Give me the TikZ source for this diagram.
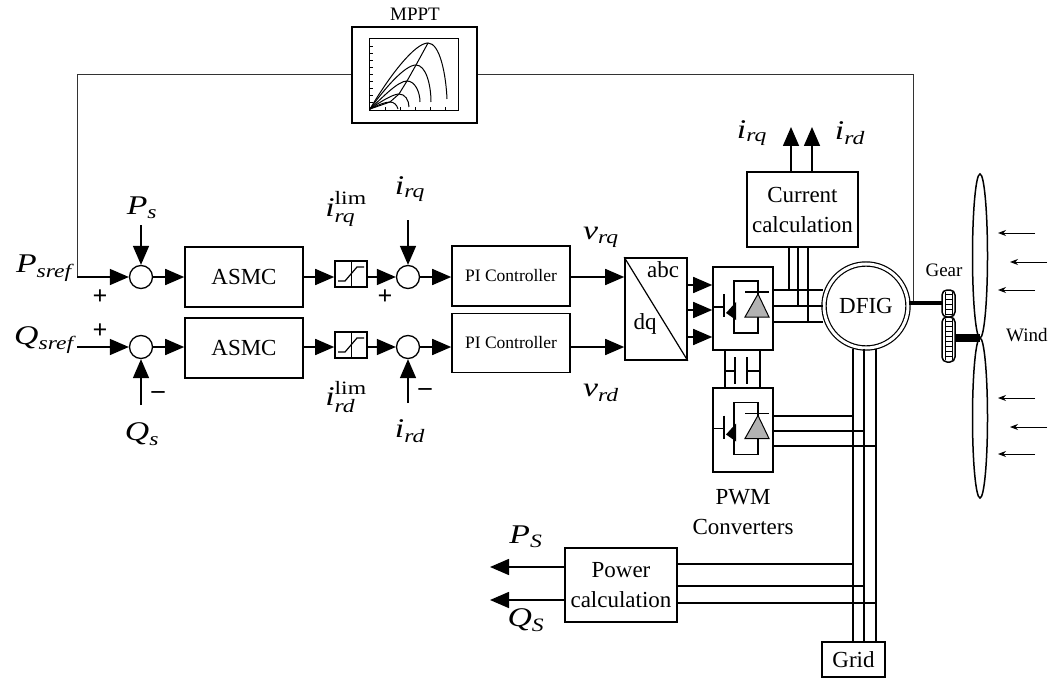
\documentclass[tikz,border=0pt]{standalone}
\usepackage{amsmath}
\usepackage{fontspec}
\setmainfont{Liberation Serif}
\usetikzlibrary{arrows.meta}
\begin{document}
\begin{tikzpicture}[x=1pt,y=-1pt,
  blk/.style={draw,line width=1.6pt,inner sep=0pt,align=center},
  sumc/.style={circle,draw,line width=1.3pt,minimum size=23pt,inner sep=0pt},
  arr/.style={-{Triangle[length=19pt,width=16pt]},line width=1.6pt},
  warr/.style={-{Stealth[length=8pt,width=6pt]},line width=0.9pt},
  wire/.style={line width=1.6pt},
  fb/.style={line width=1pt,draw=black!80},
  lbl/.style={inner sep=0pt,xscale=1.25,font=\fontsize{27}{30}\selectfont},
  txt/.style={font=\fontsize{23}{30}\selectfont},
  sml/.style={font=\fontsize{19}{20}\selectfont},
  sgn/.style={inner sep=0pt,font=\bfseries\fontsize{26}{26}\selectfont}
]
\useasboundingbox (0,0) rectangle (1050,682);
% ---------- MPPT ----------
\node[blk,minimum width=125pt,minimum height=96pt] (mppt) at (414.5,75) {};
\node[draw,line width=1pt,minimum width=89pt,minimum height=72pt,inner sep=0pt] (mpptin) at (413.5,75) {};
\node[font=\fontsize{19}{20}\selectfont] (mpptl) at (415,14) {MPPT};
\draw[line width=1pt] (370,109) .. controls (390,75) and (415,43) .. (428,43) .. controls (440,43) and (446,75) .. (447,99);
\draw[line width=1pt] (370,109) .. controls (385,88) and (405,65) .. (416,65) .. controls (426,65) and (431,85) .. (431,102);
\draw[line width=1pt] (370,109) .. controls (383,97) and (398,81) .. (407,81) .. controls (415,81) and (420,92) .. (420,102);
\draw[line width=1pt] (370,109) .. controls (380,102) and (393,94) .. (399,94) .. controls (405,94) and (409,100) .. (409,107);
\draw[line width=1pt] (370,109) .. controls (378,105) and (385,102) .. (390,102) .. controls (394,102) and (397,105) .. (398,109);
\draw[line width=1pt] (370,109) -- (390,102) -- (399,94) -- (407,81) -- (416,65) -- (428,43);
\foreach \ty in {46,53,...,102} \draw[line width=0.7pt] (369,\ty) -- (373,\ty);
\foreach \tx in {385,400,415,430,445} \draw[line width=0.7pt] (\tx,111) -- (\tx,107);
% ---------- left summing ----------
\node[sumc] (s1) at (141,277) {};
\node[sumc] (s2) at (141,347) {};
\coordinate (fbL) at (77,277);
\coordinate (q0) at (77,347);
\coordinate (psT) at (141,225);
\coordinate (qsB) at (141,405);
\draw[fb] (mppt.west) -| (fbL);
\draw[arr] (fbL) -- (s1);
\draw[arr] (q0) -- (s2);
\draw[arr] (psT) -- (s1);
\draw[arr] (qsB) -- (s2);
\node[lbl] (psref) at (44,268) {$\textit{P}_{\textit{sref}}$};
\node[lbl] (qsref) at (44,340) {$\textit{Q}_{\textit{sref}}$};
\node[lbl] (psl) at (142,208) {$\textit{P}_{\textit{s}}$};
\node[lbl] (qsl) at (142,434) {$\textit{Q}_{\textit{s}}$};
\node[sgn] (pl1) at (100,297) {+};
\node[sgn] (pl2) at (100,331) {+};
\node[sgn] (mi1) at (158,395) {\textendash};
% ---------- ASMC, limiter, sum ----------
\node[blk,txt,minimum width=118pt,minimum height=60pt] (asmc1) at (244,277) {ASMC};
\node[blk,txt,minimum width=118pt,minimum height=60pt] (asmc2) at (244,348) {ASMC};
\node[blk,minimum width=32pt,minimum height=26pt] (sat1) at (351,274) {};
\node[blk,minimum width=32pt,minimum height=26pt] (sat2) at (351,345) {};
\foreach \sn in {sat1,sat2}{
  \begin{scope}[shift={(\sn.center)}]
    \draw[line width=1pt] (0,-12) -- (0,12);
    \draw[line width=1.2pt] (-13,7) -- (-6,7) -- (6,-7) -- (13,-7);
  \end{scope}}
\node[sumc] (s3) at (408,277) {};
\node[sumc] (s4) at (408,347) {};
\draw[arr] (s1) -- (s1 -| asmc1.west);
\draw[arr] (s2) -- (s2 -| asmc2.west);
\draw[arr] (asmc1.east |- s3) -- (sat1.west |- s3);
\draw[arr] (asmc2.east |- s4) -- (sat2.west |- s4);
\draw[arr] (sat1.east |- s3) -- (s3);
\draw[arr] (sat2.east |- s4) -- (s4);
\coordinate (irqT) at (408,220);
\coordinate (irdB) at (408,403);
\draw[arr] (irqT) -- (s3);
\draw[arr] (irdB) -- (s4);
\node[lbl] (irql) at (410,189) {$\textit{i}_{\textit{rq}}$};
\node[lbl] (irdl) at (410,431) {$\textit{i}_{\textit{rd}}$};
\node[lbl] (irqlim) at (346,209) {$\textit{i}_{\textit{rq}}^{\text{lim}}$};
\node[lbl] (irdlim) at (346,397) {$\textit{i}_{\textit{rd}}^{\text{lim}}$};
\node[sgn] (pl3) at (385,297) {+};
\node[sgn] (mi2) at (425,392) {\textendash};
% ---------- PI ----------
\node[blk,minimum width=118pt,minimum height=60pt,font=\fontsize{17.5}{20}\selectfont] (pi1) at (511,276) {PI Controller};
\node[blk,minimum width=118pt,minimum height=59pt,font=\fontsize{17.5}{20}\selectfont] (pi2) at (511,343) {PI Controller};
\draw[arr] (s3) -- (s3 -| pi1.west);
\draw[arr] (s4) -- (s4 -| pi2.west);
% ---------- abc/dq ----------
\node[blk,minimum width=62pt,minimum height=102pt] (abc) at (656,309) {};
\draw[line width=1.2pt] (abc.north west) -- (abc.south east);
\node[txt] (abcl) at (663,270) {abc};
\node[txt] (dql) at (645,324) {dq};
\draw[arr] (s3 -| pi1.east) -- (s3 -| abc.west);
\draw[arr] (s4 -| pi2.east) -- (s4 -| abc.west);
\node[lbl] (vrql) at (601,237) {$\textit{v}_{\textit{rq}}$};
\node[lbl] (vrdl) at (601,393) {$\textit{v}_{\textit{rd}}$};
% ---------- converters ----------
\node[blk,minimum width=60pt,minimum height=83pt] (conv1) at (743,308.5) {};
\node[blk,minimum width=60pt,minimum height=84pt] (conv2) at (743,430) {};
\foreach \yy in {285,310,337}{
  \coordinate (ya) at (0,\yy);
  \draw[arr] (abc.east |- ya) -- (conv1.west |- ya);}
\foreach \cn in {conv1,conv2}{
  \begin{scope}[shift={(\cn.center)}]
    \draw[line width=1.3pt] (-9,-27.5) rectangle (15,24.5);
    \draw[line width=1.3pt] (-30,-1.5) -- (-19,-1.5);
    \draw[line width=1.5pt] (-19,-14.5) -- (-19,8.5);
    \fill (-17,4.5) -- (-7,-6.5) -- (-7,11.5) -- cycle;
    \filldraw[fill=black!30,line width=1pt] (2,8.5) -- (26,8.5) -- (15,-14.5) -- cycle;
    \draw[line width=1.6pt] (2,-16.5) -- (26,-16.5);
  \end{scope}}
\coordinate (d1) at (725,0);
\coordinate (d2) at (760,0);
\draw[wire] (conv1.south -| d1) -- (conv2.north -| d1);
\draw[wire] (conv1.south -| d2) -- (conv2.north -| d2);
\draw[line width=1.4pt] (725,371) -- (735,371) (735,357) -- (735,384) (747,357) -- (747,384) (747,371) -- (760,371);
\node[txt,align=center] (pwml) at (743,512) {PWM\\Converters};
% ---------- current calculation ----------
\node[blk,txt,minimum width=111pt,minimum height=75pt] (cc) at (802.5,209.5) {Current\\calculation};
\coordinate (iq) at (791,127);
\coordinate (id) at (812,127);
\draw[arr] (cc.north -| iq) -- (iq);
\draw[arr] (cc.north -| id) -- (id);
\node[lbl] (irqo) at (752,133) {$\textit{i}_{\textit{rq}}$};
\node[lbl] (irdo) at (850,133) {$\textit{i}_{\textit{rd}}$};
% ---------- DFIG ----------
\node[circle,draw,line width=1.2pt,double,double distance=3pt,minimum size=84pt,inner sep=0pt,txt] (dfig) at (866,306) {DFIG};
\coordinate (w1) at (0,290);
\coordinate (w2) at (0,306);
\coordinate (w3) at (0,322);
\coordinate (c1) at (789,0);
\coordinate (c2) at (798,0);
\coordinate (c3) at (808,0);
\draw[wire] (conv1.east |- w1) -- (dfig.west |- w1);
\draw[wire] (conv1.east |- w2) -- (dfig.west |- w2);
\draw[wire] (conv1.east |- w3) -- (dfig.west |- w3);
\draw[wire] (cc.south -| c1) -- (c1 |- w1);
\draw[wire] (cc.south -| c2) -- (c2 |- w2);
\draw[wire] (cc.south -| c3) -- (c3 |- w3);
% ---------- grid & power calc ----------
\node[blk,txt,minimum width=63pt,minimum height=35pt] (grid) at (853.5,659.5) {Grid};
\node[blk,txt,minimum width=112pt,minimum height=74pt] (pc) at (621,585) {Power\\calculation};
\coordinate (g1) at (853,0);
\coordinate (g2) at (864,0);
\coordinate (g3) at (876,0);
\draw[wire] (dfig.south -| g1) -- (grid.north -| g1);
\draw[wire] (dfig.south -| g2) -- (grid.north -| g2);
\draw[wire] (dfig.south -| g3) -- (grid.north -| g3);
\coordinate (v1) at (0,416);
\coordinate (v2) at (0,431);
\coordinate (v3) at (0,446);
\draw[wire] (conv2.east |- v1) -- (g1 |- v1);
\draw[wire] (conv2.east |- v2) -- (g2 |- v2);
\draw[wire] (conv2.east |- v3) -- (g3 |- v3);
\coordinate (p1) at (0,564);
\coordinate (p2) at (0,586);
\coordinate (p3) at (0,603);
\draw[wire] (pc.east |- p1) -- (g1 |- p1);
\draw[wire] (pc.east |- p2) -- (g2 |- p2);
\draw[wire] (pc.east |- p3) -- (g3 |- p3);
\coordinate (pa) at (490,567);
\coordinate (pb) at (490,600);
\draw[arr] (pc.west |- pa) -- (pa);
\draw[arr] (pc.west |- pb) -- (pb);
\node[lbl] (psout) at (526,537) {$\textit{P}_{\textit{S}}$};
\node[lbl] (qsout) at (526,620) {$\textit{Q}_{\textit{S}}$};
% ---------- turbine ----------
\coordinate (fbR) at (913,303);
\draw[fb] (mppt.east) -| (fbR);
\draw[line width=4pt] (dfig.east |- fbR) -- (942,303);
\draw[line width=1.5pt,rounded corners=5pt,fill=white] (942,290) rectangle (955,317);
\draw[line width=1.5pt,rounded corners=5pt,fill=white] (942,317) rectangle (955,362);
\foreach \gy in {294,299,...,314} \draw[line width=1pt] (945,\gy) -- (952,\gy);
\foreach \gy in {321,326,...,358} \draw[line width=1pt] (945,\gy) -- (952,\gy);
\draw[line width=1pt] (945,292) -- (945,315) (952,292) -- (952,315);
\draw[line width=1pt] (945,319) -- (945,360) (952,319) -- (952,360);
\draw[line width=8pt] (955,338) -- (980,338);
\draw[line width=1.5pt] (980,256) ellipse (7.5 and 82);
\draw[line width=1.5pt] (980,418) ellipse (7.5 and 80);
\node[sml] (gearl) at (944,270) {Gear};
\node[sml,anchor=west,inner sep=0pt] (windl) at (1006,335) {Wind};
\foreach \wy/\wa/\wb in {233/1035/998,262/1047/1010,290/1035/998,398/1035/998,427/1047/1010,454/1035/998}
  \draw[warr] (\wa,\wy) -- (\wb,\wy);
\end{tikzpicture}
\end{document}
